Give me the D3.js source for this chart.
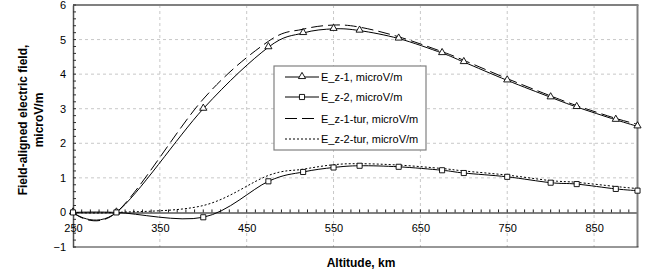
<!DOCTYPE html>
<html><head><meta charset="utf-8">
<script src="https://cdn.jsdelivr.net/npm/d3@7"></script>
<style>body{margin:0;background:#fff}svg{display:block}text{font-family:Arial,"Liberation Sans",sans-serif}</style>
</head><body>
<svg id="c" width="652" height="279"></svg>
<script>
const altitudes = [250, 300, 400, 475, 515, 550, 580, 625, 675, 700, 750, 800, 830, 875, 900];
const ez1    = [0, 0, 3.0, 4.78, 5.19, 5.31, 5.26, 5.03, 4.61, 4.35, 3.82, 3.33, 3.05, 2.68, 2.49];
const ez2    = [0, 0, -0.14, 0.90, 1.17, 1.30, 1.35, 1.32, 1.22, 1.14, 1.03, 0.86, 0.82, 0.68, 0.63];
const ez1tur = [0, 0, 3.28, 4.95, 5.3, 5.42, 5.36, 5.08, 4.65, 4.40, 3.87, 3.37, 3.09, 2.72, 2.55];
const ez2tur = [0, 0, 0.2, 1.07, 1.25, 1.38, 1.41, 1.37, 1.27, 1.20, 1.08, 0.92, 0.87, 0.75, 0.69];
const seriesNames = ["E_z-1, microV/m", "E_z-2, microV/m", "E_z-1-tur, microV/m", "E_z-2-tur, microV/m"];
const xTicks = [250, 350, 450, 550, 650, 750, 850];
const yTicks = [-1, 0, 1, 2, 3, 4, 5, 6];

const svg = d3.select("#c");
const L = 73, R = 637.5, T = 5, B = 247;
const x = d3.scaleLinear().domain([250, 900]).range([L, R]);
const y = d3.scaleLinear().domain([-1, 6]).range([B, T]);

// gridlines
const g = svg.append("g");
yTicks.filter(v => v > -1 && v < 6 && v !== 0).forEach(v => {
  g.append("line").attr("x1", L).attr("x2", R).attr("y1", y(v)).attr("y2", y(v))
    .attr("stroke", "#c8c8c8").attr("stroke-dasharray", "3,3");
});
xTicks.filter(v => v > 250).forEach(v => {
  g.append("line").attr("x1", x(v)).attr("x2", x(v)).attr("y1", T).attr("y2", B)
    .attr("stroke", "#c8c8c8").attr("stroke-dasharray", "3,3");
});

// frame
svg.append("line").attr("x1", L).attr("x2", R + 1).attr("y1", T).attr("y2", T).attr("stroke", "#808080").attr("stroke-width", 2);
svg.append("line").attr("x1", R).attr("x2", R).attr("y1", T).attr("y2", B).attr("stroke", "#808080").attr("stroke-width", 2);
svg.append("line").attr("x1", L).attr("x2", R + 1).attr("y1", B).attr("y2", B).attr("stroke", "#303030").attr("stroke-width", 1);

// y axis
const yAxis = d3.axisLeft(y).tickValues(yTicks).tickSize(0).tickPadding(7).tickFormat(d3.format("d"));
const ya = svg.append("g").attr("transform", `translate(${L},0)`).call(yAxis);
ya.select(".domain").attr("stroke", "#505050").attr("stroke-width", 1.5);
ya.selectAll("text").attr("font-size", 11).attr("fill", "#000");
// y minor ticks
d3.range(-1, 6.001, 0.2).forEach(v => {
  svg.append("line").attr("x1", L).attr("x2", L + 3).attr("y1", y(v)).attr("y2", y(v)).attr("stroke", "#303030");
});

// x axis at zero
const xAxis = d3.axisBottom(x).tickValues(xTicks).tickSize(0).tickPadding(12).tickFormat(d3.format("d"));
const xa = svg.append("g").attr("transform", `translate(0,${y(0)})`).call(xAxis);
xa.select(".domain").attr("stroke", "#808080").attr("stroke-width", 2);
xa.selectAll("text").attr("font-size", 11).attr("fill", "#000");
d3.range(260, 900, 10).forEach(v => {
  svg.append("line").attr("x1", x(v)).attr("x2", x(v)).attr("y1", y(0) - 3).attr("y2", y(0)).attr("stroke", "#202020");
});

// lines
const line = d3.line().x((d, i) => x(altitudes[i])).y(d => y(d)).curve(d3.curveCatmullRom.alpha(0));
const plot = svg.append("g");
plot.append("path").attr("d", line(ez2tur)).attr("fill", "none").attr("stroke", "#000").attr("stroke-width", 1).attr("stroke-dasharray", "2,2");
plot.append("path").attr("d", line(ez1tur)).attr("fill", "none").attr("stroke", "#000").attr("stroke-width", 1).attr("stroke-dasharray", "12,5");
plot.append("path").attr("d", line(ez2)).attr("fill", "none").attr("stroke", "#000").attr("stroke-width", 1);
plot.append("path").attr("d", line(ez1)).attr("fill", "none").attr("stroke", "#000").attr("stroke-width", 1);

const tri = d3.symbol().type(d3.symbolTriangle).size(22);
const sq = d3.symbol().type(d3.symbolSquare).size(26);
ez1.forEach((v, i) => {
  plot.append("path").attr("d", tri()).attr("transform", `translate(${x(altitudes[i])},${y(v) - 0.5})`)
    .attr("fill", "#fff").attr("stroke", "#000").attr("stroke-width", 0.9);
});
ez2.forEach((v, i) => {
  plot.append("path").attr("d", sq()).attr("transform", `translate(${x(altitudes[i])},${y(v)})`)
    .attr("fill", "#fff").attr("stroke", "#000").attr("stroke-width", 0.9);
});

// legend
const lg = svg.append("g");
lg.append("rect").attr("x", 274).attr("y", 66).attr("width", 152).attr("height", 84)
  .attr("fill", "#fff").attr("stroke", "#808080").attr("stroke-width", 1.2);
const ly = [77, 97, 118.5, 139];
const styles = ["none", "none", "12,5", "2,2"];
seriesNames.forEach((nm, i) => {
  lg.append("line").attr("x1", 285).attr("x2", 319).attr("y1", ly[i]).attr("y2", ly[i])
    .attr("stroke", "#000").attr("stroke-dasharray", styles[i]);
  if (i === 0) lg.append("path").attr("d", tri()).attr("transform", `translate(302,${ly[i] - 0.5})`).attr("fill", "#fff").attr("stroke", "#000").attr("stroke-width", 0.9);
  if (i === 1) lg.append("path").attr("d", sq()).attr("transform", `translate(302,${ly[i]})`).attr("fill", "#fff").attr("stroke", "#000").attr("stroke-width", 0.9);
  lg.append("text").attr("x", 321).attr("y", ly[i] + 4).attr("font-size", 11).text(nm);
});

// titles
const yt = svg.append("text").attr("transform", "translate(27,120) rotate(-90)")
  .attr("text-anchor", "middle").attr("font-size", 12).attr("font-weight", "bold");
yt.append("tspan").attr("x", 0).attr("dy", 0).text("Field-aligned electric field,");
yt.append("tspan").attr("x", 0).attr("dy", 16).text("microV/m");
svg.append("text").attr("x", 361).attr("y", 267).attr("text-anchor", "middle")
  .attr("font-size", 12).attr("font-weight", "bold").text("Altitude, km");
</script>
</body></html>
